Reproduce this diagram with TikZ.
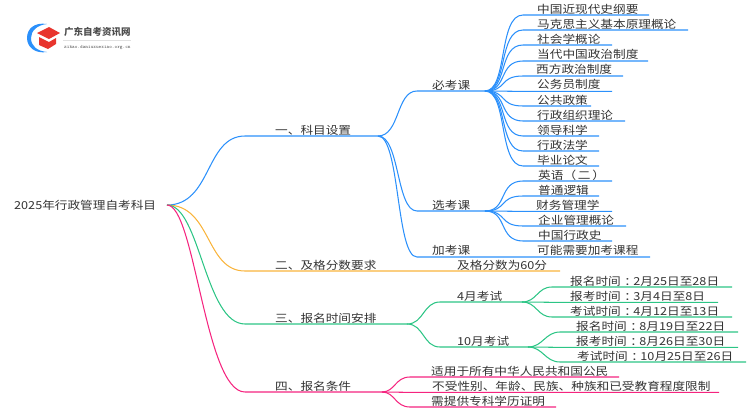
\documentclass[tikz,border=0pt]{standalone}
\usepackage{fontspec}
\setmainfont{Noto Sans CJK SC}[FakeStretch=1.15]
\newfontfamily\logofont{Noto Sans CJK SC}
\definecolor{bluebr}{HTML}{2B90FB}
\definecolor{orangebr}{HTML}{F9B43C}
\definecolor{greenbr}{HTML}{2CC585}
\definecolor{pinkbr}{HTML}{F5247F}
\definecolor{textgrey}{HTML}{333333}
\definecolor{logored}{HTML}{E8352E}
\newcommand{\midcolon}{\kern3.5pt：\kern-3.5pt}
\tikzset{
  lab/.style={anchor=base west, inner sep=0pt, yshift=-0.8pt, text=textgrey, font=\fontsize{11}{11}\selectfont},
  edge1/.style={bluebr, line width=1.05pt},
  edge2/.style={orangebr, line width=1.05pt},
  edge3/.style={greenbr, line width=1.05pt},
  edge4/.style={pinkbr, line width=1.05pt},
}
\begin{document}
\begin{tikzpicture}[x=1pt, y=-1pt]
      \useasboundingbox (0,0) rectangle (750,410);
      % logo
      \fill[bluebr] (47,24) .. controls (34,22) and (27,29) .. (27,38) .. controls (27,47) and (35,54) .. (47,52) .. controls (37,51) and (31,46) .. (31,38) .. controls (31,31) and (37,25) .. (47,24) -- cycle;
      \fill[logored] (49,27) -- (60,33) -- (49,39) -- (37,33) -- cycle;
      \fill[logored] (39,37) -- (49,42) -- (56,38) -- (56,44) -- (48,49) -- (39,45) -- cycle;
      \node[inner sep=0pt, anchor=base west, font=\logofont\fontsize{9.5}{10}\selectfont\bfseries, text=black!70] (logotitle) at (64,35) {广东自考资讯网};
      \coordinate (logoa) at (63,40.5);
      \coordinate (logob) at (131,40.5);
      \draw[black!12, line width=0.4pt] (logoa) -- (logob);
      \node[inner sep=0pt, anchor=base west, font=\ttfamily\fontsize{5}{5}\selectfont, text=black!65] (logourl) at (64,48.5) {zikao.daniuxuexiao.org.cn};
      % root
      \node[lab] (root) at (14,209) {2025年行政管理自考科目};
      \coordinate (rootend) at (167,205);
      % first branch
      \node[lab] (kemu) at (275,134) {一、科目设置};
      \coordinate (kemustart) at (245,136);
      \coordinate (kemuhub) at (378,136);
      \draw[edge1] (rootend) .. controls +(45,0) and +(-40,0) .. (kemustart) -- (kemuhub);
      \node[lab] (bikao) at (432,89) {必考课};
      \coordinate (bikaostart) at (417,91);
      \coordinate (bikaohub) at (485,91);
      \draw[edge1] (kemuhub) .. controls +(22,0) and +(-21,0) .. (bikaostart) -- (bikaohub);
      \node[lab] (xuankao) at (432,209) {选考课};
      \coordinate (xuankaostart) at (417,211);
      \coordinate (xuankaohub) at (485,211);
      \draw[edge1] (kemuhub) .. controls +(22,0) and +(-21,0) .. (xuankaostart) -- (xuankaohub);
      \node[lab] (jiakao) at (432,254) {加考课};
      \coordinate (jiakaostart) at (417,257);
      \coordinate (jiakaoend) at (650,257);
      \draw[edge1] (kemuhub) .. controls +(22,0) and +(-21,0) .. (jiakaostart) -- (jiakaoend);
      \node[lab] (jiakaotext) at (537,254) {可能需要加考课程};
      % required courses
      \node[lab] (b1) at (537,13) {中国近现代史纲要};
      \coordinate (b1s) at (523,15); \coordinate (b1e) at (649,15);
      \draw[edge1] (bikaohub) .. controls +(23,0) and +(-25,0) .. (b1s) -- (b1e);
      \node[lab] (b2) at (537,28) {马克思主义基本原理概论};
      \coordinate (b2s) at (523,30); \coordinate (b2e) at (688,30);
      \draw[edge1] (bikaohub) .. controls +(23,0) and +(-25,0) .. (b2s) -- (b2e);
      \node[lab] (b3) at (537,43) {社会学概论};
      \coordinate (b3s) at (523,45); \coordinate (b3e) at (612,45);
      \draw[edge1] (bikaohub) .. controls +(23,0) and +(-25,0) .. (b3s) -- (b3e);
      \node[lab] (b4) at (537,58) {当代中国政治制度};
      \coordinate (b4s) at (523,61); \coordinate (b4e) at (648,61);
      \draw[edge1] (bikaohub) .. controls +(23,0) and +(-25,0) .. (b4s) -- (b4e);
      \node[lab] (b5) at (536,73) {西方政治制度};
      \coordinate (b5s) at (523,76); \coordinate (b5e) at (623,76);
      \draw[edge1] (bikaohub) .. controls +(23,0) and +(-25,0) .. (b5s) -- (b5e);
      \node[lab] (b6) at (537,88) {公务员制度};
      \coordinate (b6s) at (523,91.3); \coordinate (b6e) at (612,91.3);
      \draw[edge1] (bikaohub) .. controls +(23,0) and +(-25,0) .. (b6s) -- (b6e);
      \node[lab] (b7) at (537,104) {公共政策};
      \coordinate (b7s) at (523,106); \coordinate (b7e) at (591,106);
      \draw[edge1] (bikaohub) .. controls +(23,0) and +(-25,0) .. (b7s) -- (b7e);
      \node[lab] (b8) at (537,119) {行政组织理论};
      \coordinate (b8s) at (523,121); \coordinate (b8e) at (625,121);
      \draw[edge1] (bikaohub) .. controls +(23,0) and +(-25,0) .. (b8s) -- (b8e);
      \node[lab] (b9) at (537,134) {领导科学};
      \coordinate (b9s) at (523,136); \coordinate (b9e) at (599,136);
      \draw[edge1] (bikaohub) .. controls +(23,0) and +(-25,0) .. (b9s) -- (b9e);
      \node[lab] (b10) at (537,149) {行政法学};
      \coordinate (b10s) at (523,151); \coordinate (b10e) at (599,151);
      \draw[edge1] (bikaohub) .. controls +(23,0) and +(-25,0) .. (b10s) -- (b10e);
      \node[lab] (b11) at (537,164) {毕业论文};
      \coordinate (b11s) at (523,166); \coordinate (b11e) at (599,166);
      \draw[edge1] (bikaohub) .. controls +(23,0) and +(-25,0) .. (b11s) -- (b11e);
      % optional courses
      \node[lab] (x1) at (538,179) {英语（\,二\,）};
      \coordinate (x1s) at (523,181); \coordinate (x1e) at (612,181);
      \draw[edge1] (xuankaohub) .. controls +(23,0) and +(-25,0) .. (x1s) -- (x1e);
      \node[lab] (x2) at (538,194) {普通逻辑};
      \coordinate (x2s) at (523,196); \coordinate (x2e) at (599,196);
      \draw[edge1] (xuankaohub) .. controls +(23,0) and +(-25,0) .. (x2s) -- (x2e);
      \node[lab] (x3) at (536,209) {财务管理学};
      \coordinate (x3s) at (523,211.3); \coordinate (x3e) at (612,211.3);
      \draw[edge1] (xuankaohub) .. controls +(23,0) and +(-25,0) .. (x3s) -- (x3e);
      \node[lab] (x4) at (538,224) {企业管理概论};
      \coordinate (x4s) at (523,226); \coordinate (x4e) at (626,226);
      \draw[edge1] (xuankaohub) .. controls +(23,0) and +(-25,0) .. (x4s) -- (x4e);
      \node[lab] (x5) at (538,239) {中国行政史};
      \coordinate (x5s) at (523,241); \coordinate (x5e) at (612,241);
      \draw[edge1] (xuankaohub) .. controls +(23,0) and +(-25,0) .. (x5s) -- (x5e);
      % second branch
      \node[lab] (jige) at (275,269) {二、及格分数要求};
      \node[lab] (jigetext) at (457,269) {及格分数为60分};
      \coordinate (jigestart) at (245,271);
      \coordinate (jigeend) at (560,271);
      \draw[edge2] (rootend) .. controls +(45,0) and +(-40,0) .. (jigestart) -- (jigeend);
      % third branch
      \node[lab] (shijian) at (275,322) {三、报名时间安排};
      \coordinate (shijianstart) at (245,324);
      \coordinate (shijianhub) at (407,324);
      \draw[edge3] (rootend) .. controls +(33,0) and +(-40,0) .. (shijianstart) -- (shijianhub);
      \node[lab] (siyue) at (457,300) {4月考试};
      \coordinate (siyuestart) at (440,302);
      \coordinate (siyuehub) at (522,302);
      \draw[edge3] (shijianhub) .. controls +(17,0) and +(-17,0) .. (siyuestart) -- (siyuehub);
      \node[lab] (shiyue) at (457,345) {10月考试};
      \coordinate (shiyuestart) at (440,347);
      \coordinate (shiyuehub) at (528,347);
      \draw[edge3] (shijianhub) .. controls +(17,0) and +(-17,0) .. (shiyuestart) -- (shiyuehub);
      \node[lab] (s1) at (570,285) {报名时间\midcolon 2月25日至28日};
      \coordinate (s1s) at (552,287); \coordinate (s1e) at (732,287);
      \draw[edge3] (siyuehub) .. controls +(15,0) and +(-15,0) .. (s1s) -- (s1e);
      \node[lab] (s2) at (570,300) {报考时间\midcolon 3月4日至8日};
      \coordinate (s2s) at (552,302.3); \coordinate (s2e) at (718,302.3);
      \draw[edge3] (siyuehub) .. controls +(15,0) and +(-15,0) .. (s2s) -- (s2e);
      \node[lab] (s3) at (570,315) {考试时间\midcolon 4月12日至13日};
      \coordinate (s3s) at (552,317); \coordinate (s3e) at (732,317);
      \draw[edge3] (siyuehub) .. controls +(15,0) and +(-15,0) .. (s3s) -- (s3e);
      \node[lab] (s4) at (576,330) {报名时间\midcolon 8月19日至22日};
      \coordinate (s4s) at (560,332); \coordinate (s4e) at (738,332);
      \draw[edge3] (shiyuehub) .. controls +(15,0) and +(-15,0) .. (s4s) -- (s4e);
      \node[lab] (s5) at (576,345) {报考时间\midcolon 8月26日至30日};
      \coordinate (s5s) at (560,347.3); \coordinate (s5e) at (738,347.3);
      \draw[edge3] (shiyuehub) .. controls +(15,0) and +(-15,0) .. (s5s) -- (s5e);
      \node[lab] (s6) at (577,360) {考试时间\midcolon 10月25日至26日};
      \coordinate (s6s) at (560,362); \coordinate (s6e) at (746,362);
      \draw[edge3] (shiyuehub) .. controls +(15,0) and +(-15,0) .. (s6s) -- (s6e);
      % fourth branch
      \node[lab] (tiaojian) at (275,390) {四、报名条件};
      \coordinate (tiaojianstart) at (245,392);
      \coordinate (tiaojianhub) at (382,392);
      \draw[edge4] (rootend) .. controls +(28,0) and +(-40,0) .. (tiaojianstart) -- (tiaojianhub);
      \node[lab] (t1) at (431,375) {适用于所有中华人民共和国公民};
      \coordinate (t1s) at (410,377); \coordinate (t1e) at (619,377);
      \draw[edge4] (tiaojianhub) .. controls +(13,0) and +(-15,0) .. (t1s) -- (t1e);
      \node[lab] (t2) at (432,390) {不受性别、年龄、民族、种族和已受教育程度限制};
      \coordinate (t2s) at (410,392.3); \coordinate (t2e) at (719,392.3);
      \draw[edge4] (tiaojianhub) .. controls +(13,0) and +(-15,0) .. (t2s) -- (t2e);
      \node[lab] (t3) at (431,405) {需提供专科学历证明};
      \coordinate (t3s) at (410,407); \coordinate (t3e) at (556,407);
      \draw[edge4] (tiaojianhub) .. controls +(13,0) and +(-15,0) .. (t3s) -- (t3e);
    \end{tikzpicture}
\end{document}
